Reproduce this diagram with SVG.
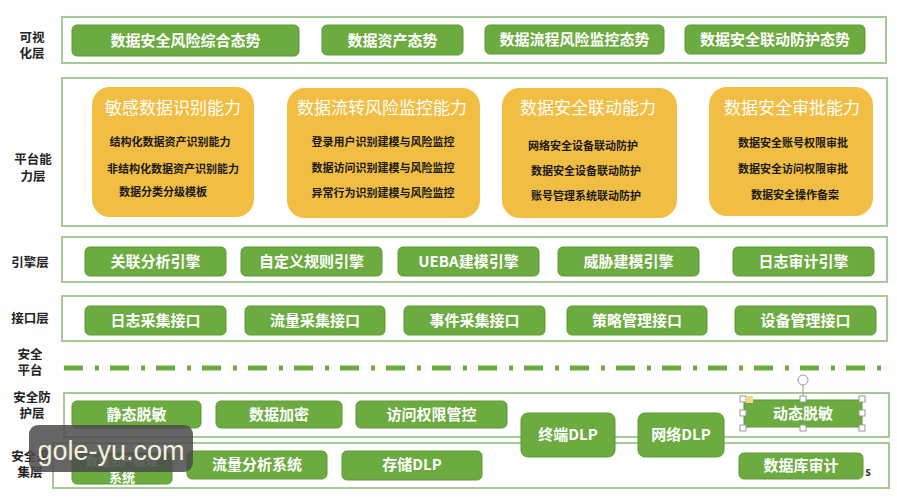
<svg xmlns="http://www.w3.org/2000/svg" width="897" height="500" viewBox="0 0 897 500">
<style>
text{font-family:'Noto Sans CJK SC','Liberation Sans',sans-serif;text-anchor:middle}
.frame{fill:#fff;stroke:#a9c897;stroke-width:2}
.btn{fill:#6cab3f;stroke:#5c9934;stroke-width:1}
.bt{fill:#fff;font-size:15px;font-weight:bold}
.card{fill:#f1bd42}
.ct{fill:#fff;font-size:17px}
.ci{fill:#1a1a1a;font-size:11px;font-weight:bold}
.lbl{fill:#222;font-size:12.5px;font-weight:bold}
.h{fill:#fff;stroke:#999;stroke-width:1}
</style>
<rect width="897" height="500" fill="#fdfefd"/>
<g id="labels">
<text class="lbl" x="32" y="42">可视</text><text class="lbl" x="32" y="58">化层</text>
<text class="lbl" x="33" y="164">平台能</text><text class="lbl" x="33" y="181">力层</text>
<text class="lbl" x="30" y="267">引擎层</text>
<text class="lbl" x="30" y="323">接口层</text>
<text class="lbl" x="30" y="359">安全</text><text class="lbl" x="30" y="375">平台</text>
<text class="lbl" x="32" y="402">安全防</text><text class="lbl" x="32" y="418">护层</text>
<text class="lbl" x="30" y="461">安全采</text><text class="lbl" x="30" y="477">集层</text>
</g>
<g id="frames">
<rect class="frame" x="62" y="17" width="824" height="46"/>
<rect class="frame" x="62" y="78" width="825" height="148"/>
<rect class="frame" x="62" y="237" width="825" height="45"/>
<rect class="frame" x="62" y="296" width="825" height="45"/>
<rect class="frame" x="64" y="393" width="825" height="44"/>
<rect class="frame" x="53" y="443" width="836" height="45"/>
</g>
<g id="separator">
<line x1="64" y1="368" x2="888" y2="368" stroke="#6cab3f" stroke-width="5" stroke-dasharray="19 12 4 11"/>
</g>
<g id="v1"><rect class="btn" x="72" y="25" width="227" height="31" rx="5"/><text class="bt" x="185.5" y="46">数据安全风险综合态势</text></g>
<g id="v2"><rect class="btn" x="322" y="25" width="141" height="30" rx="5"/><text class="bt" x="392.5" y="45.5">数据资产态势</text></g>
<g id="v3"><rect class="btn" x="485" y="25" width="179" height="29" rx="5"/><text class="bt" x="574.5" y="45">数据流程风险监控态势</text></g>
<g id="v4"><rect class="btn" x="685" y="25" width="180" height="29" rx="5"/><text class="bt" x="775" y="45">数据安全联动防护态势</text></g>
<g id="p1"><rect class="card" x="92" y="87" width="162" height="130" rx="18"/>
<text class="ct" x="173" y="114">敏感数据识别能力</text>
<text class="ci" x="170" y="146">结构化数据资产识别能力</text>
<text class="ci" x="173" y="173">非结构化数据资产识别能力</text>
<text class="ci" x="163" y="196">数据分类分级模板</text></g>
<g id="p2"><rect class="card" x="287" y="88" width="193" height="130" rx="18"/>
<text class="ct" x="382" y="114">数据流转风险监控能力</text>
<text class="ci" x="383" y="146">登录用户识别建模与风险监控</text>
<text class="ci" x="383" y="172">数据访问识别建模与风险监控</text>
<text class="ci" x="383" y="197">异常行为识别建模与风险监控</text></g>
<g id="p3"><rect class="card" x="502" y="88" width="175" height="130" rx="18"/>
<text class="ct" x="588" y="114">数据安全联动能力</text>
<text class="ci" x="583" y="150">网络安全设备联动防护</text>
<text class="ci" x="586" y="175">数据安全设备联动防护</text>
<text class="ci" x="586" y="200">账号管理系统联动防护</text></g>
<g id="p4"><rect class="card" x="709" y="87" width="164" height="129" rx="18"/>
<text class="ct" x="792" y="114">数据安全审批能力</text>
<text class="ci" x="793" y="147">数据安全账号权限审批</text>
<text class="ci" x="793" y="173">数据安全访问权限审批</text>
<text class="ci" x="795" y="199">数据安全操作备案</text></g>
<g id="e1"><rect class="btn" x="85" y="247" width="141" height="29" rx="5"/><text class="bt" x="155.5" y="267">关联分析引擎</text></g>
<g id="e2"><rect class="btn" x="241" y="247" width="141" height="29" rx="5"/><text class="bt" x="311.5" y="267">自定义规则引擎</text></g>
<g id="e3"><rect class="btn" x="398" y="247" width="141" height="29" rx="5"/><text class="bt" x="468.5" y="267">UEBA建模引擎</text></g>
<g id="e4"><rect class="btn" x="558" y="247" width="141" height="29" rx="5"/><text class="bt" x="628.5" y="267">威胁建模引擎</text></g>
<g id="e5"><rect class="btn" x="733" y="247" width="141" height="29" rx="5"/><text class="bt" x="803.5" y="267">日志审计引擎</text></g>
<g id="i1"><rect class="btn" x="85" y="306" width="141" height="29" rx="5"/><text class="bt" x="155.5" y="326">日志采集接口</text></g>
<g id="i2"><rect class="btn" x="245" y="306" width="140" height="29" rx="5"/><text class="bt" x="315" y="326">流量采集接口</text></g>
<g id="i3"><rect class="btn" x="404" y="306" width="141" height="29" rx="5"/><text class="bt" x="474.5" y="326">事件采集接口</text></g>
<g id="i4"><rect class="btn" x="567" y="306" width="140" height="29" rx="5"/><text class="bt" x="637" y="326">策略管理接口</text></g>
<g id="i5"><rect class="btn" x="735" y="306" width="141" height="29" rx="5"/><text class="bt" x="805.5" y="326">设备管理接口</text></g>
<g id="s1"><rect class="btn" x="72" y="401" width="129" height="27" rx="5"/><text class="bt" x="136.5" y="420">静态脱敏</text></g>
<g id="s2"><rect class="btn" x="216" y="401" width="126" height="27" rx="5"/><text class="bt" x="279" y="420">数据加密</text></g>
<g id="s3"><rect class="btn" x="356" y="401" width="151" height="27" rx="5"/><text class="bt" x="431.5" y="420">访问权限管控</text></g>
<g id="s4"><rect class="btn" x="744" y="400" width="118" height="27" rx="2"/><text class="bt" x="803" y="419">动态脱敏</text></g>
<g id="d1"><rect class="btn" x="521" y="413" width="94" height="44" rx="7"/><text class="bt" x="568" y="440">终端DLP</text></g>
<g id="d2"><rect class="btn" x="638" y="413" width="86" height="44" rx="7"/><text class="bt" x="681" y="440">网络DLP</text></g>
<g id="c1"><rect class="btn" x="72" y="453" width="100" height="31" rx="5"/><text class="bt" x="122" y="466" style="font-size:12px">数据资产梳理</text><text class="bt" x="122" y="482" style="font-size:13px">系统</text></g>
<g id="c2"><rect class="btn" x="187" y="451" width="140" height="28" rx="5"/><text class="bt" x="257" y="470">流量分析系统</text></g>
<g id="c3"><rect class="btn" x="342" y="451" width="140" height="29" rx="5"/><text class="bt" x="412" y="470">存储DLP</text></g>
<g id="c4"><rect class="btn" x="739" y="453" width="124" height="26" rx="5"/><text class="bt" x="801" y="471">数据库审计</text></g>
<text x="868" y="476" style="font-size:11px;font-weight:bold;fill:#2a3a4a">s</text>
<g id="selection">
<line x1="803" y1="385" x2="803" y2="399" stroke="#999" stroke-width="1"/>
<circle cx="803" cy="380" r="5" fill="#fff" stroke="#999"/>
<rect class="h" x="740" y="396" width="6" height="6"/><rect class="h" x="800" y="396" width="6" height="6"/><rect class="h" x="859" y="396" width="6" height="6"/>
<rect class="h" x="740" y="410" width="6" height="6"/><rect class="h" x="859" y="410" width="6" height="6"/>
<rect class="h" x="740" y="425" width="6" height="6"/><rect class="h" x="800" y="425" width="6" height="6"/><rect class="h" x="859" y="425" width="6" height="6"/>
<rect x="746" y="396" width="7" height="7" fill="#f5d98a"/>
</g>
<g id="watermark">
<rect x="29" y="425" width="164" height="47" rx="9" fill="#4a4a4a" fill-opacity="0.85"/>
<text x="111" y="460" style="font-family:'Liberation Sans',sans-serif;font-size:27px;fill:#f4f1dc">gole-yu.com</text>
</g>
</svg>
